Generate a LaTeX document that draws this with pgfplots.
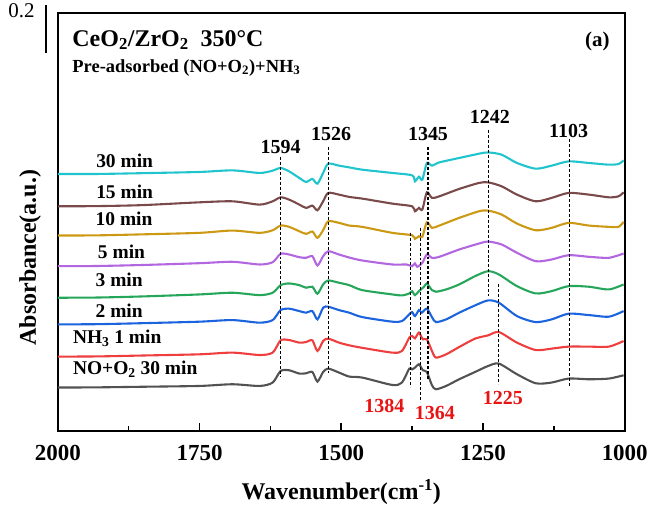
\documentclass[border=0pt]{standalone}
\usepackage{fontspec}
\setmainfont{Liberation Serif}
\usepackage{pgfplots}
\pgfplotsset{compat=1.18}

\definecolor{cCyan}{RGB}{32,196,204}
\definecolor{cBrown}{RGB}{122,74,74}
\definecolor{cGold}{RGB}{204,153,20}
\definecolor{cPurple}{RGB}{178,102,224}
\definecolor{cGreen}{RGB}{38,166,90}
\definecolor{cBlue}{RGB}{28,100,222}
\definecolor{cRed}{RGB}{238,62,62}
\definecolor{cGray}{RGB}{82,82,82}
\definecolor{lblRed}{RGB}{232,20,20}

\pgfplotsset{
  spec/.style={line width=2.1pt, smooth, tension=0.45, no marks, solid},
  guide/.style={black, line width=1.1pt, sharp plot, no marks, dash pattern=on 3pt off 2pt},
}

\begin{document}
\begin{tikzpicture}
\begin{axis}[
    scale only axis,
    width=568pt, height=419pt,
    xmin=1000, xmax=2000, ymin=0, ymax=419,
    x dir=reverse,
    clip=false,
    line width=2.2pt,
    xtick={1000,1250,...,2000},
    minor x tick num=1,
    xtick pos=bottom,
    tick align=inside,
    major tick length=8pt, minor tick length=5pt,
    major tick style={line width=1.6pt, black},
    minor tick style={line width=1.6pt, black},
    ytick=\empty,
    /pgf/number format/1000 sep={},
    /pgf/number format/assume math mode=true,
    ticklabel style={font=\fontsize{23}{27}\selectfont\bfseries},
    xticklabel style={yshift=-10pt},
    xlabel={Wavenumber(cm\textsuperscript{-1})},
    ylabel={Absorbance(a.u.)},
    label style={font=\fontsize{24}{28}\selectfont\bfseries},
    xlabel style={at={(axis description cs:0.5,0)}, anchor=center, yshift=-61pt},
    ylabel style={at={(axis description cs:-0.049,0.415)}, anchor=center},
  ]

  % NO+O2 30 min
  \addplot[spec, cGray] table {
2000 43.7
1930 43.9
1850 44.5
1750 45.3
1692 47.0
1644 45.3
1621 48.7
1607 60.3
1592 61.0
1574 57.7
1562 58.0
1551 59.3
1542 49.7
1532 59.3
1523 62.7
1504 58.7
1486 54.7
1463 53.7
1410 46.3
1393 48.7
1380 62.7
1375 62.0
1370 63.7
1363 67.0
1356 61.0
1349 59.3
1340 46.0
1333 42.0
1315 45.3
1292 52.0
1264 59.3
1241 65.3
1222 67.7
1190 57.0
1157 48.0
1129 48.7
1099 52.7
1063 52.0
1028 52.7
1002 56.0
  };
  % NH3 1 min
  \addplot[spec, cRed] table {
2000 74.7
1930 74.9
1850 75.8
1750 77.0
1692 78.7
1644 76.3
1621 78.7
1607 91.0
1592 91.3
1574 88.7
1562 89.3
1551 91.0
1542 80.3
1532 90.3
1523 92.7
1504 88.7
1486 86.0
1463 83.5
1410 78.7
1393 80.3
1380 93.7
1375 95.3
1370 93.0
1363 98.7
1356 92.0
1349 92.0
1340 80.3
1333 73.7
1315 77.0
1292 84.3
1264 92.7
1241 96.0
1222 99.3
1190 88.7
1157 81.3
1129 82.7
1099 84.7
1063 84.7
1028 84.7
1002 90.3
  };
  % 2 min
  \addplot[spec, cBlue] table {
2000 107.0
1930 107.2
1850 108.2
1750 109.7
1692 111.3
1644 108.7
1621 111.3
1607 121.3
1592 122.7
1574 120.3
1562 118.7
1551 120.3
1542 112.0
1532 123.7
1523 124.7
1504 121.3
1486 118.7
1463 114.3
1410 109.7
1393 110.3
1380 117.0
1375 119.3
1370 115.3
1363 121.3
1358 118.7
1349 122.7
1340 114.3
1333 109.3
1315 112.0
1292 118.7
1264 126.0
1241 131.0
1222 128.7
1190 115.3
1157 109.3
1129 112.0
1099 117.7
1063 116.3
1028 114.7
1002 120.3
  };
  % 3 min
  \addplot[spec, cGreen] table {
2000 133.7
1930 133.9
1850 135.0
1750 137.0
1692 138.7
1644 136.3
1621 138.7
1607 146.3
1592 148.0
1574 146.3
1562 143.7
1551 144.7
1542 137.7
1532 147.0
1523 151.0
1504 148.7
1486 146.3
1463 141.3
1410 137.0
1393 136.0
1380 138.0
1375 140.3
1370 136.3
1363 140.3
1354 144.7
1349 148.0
1340 141.3
1333 139.7
1315 142.0
1292 147.0
1264 155.3
1241 160.3
1222 157.0
1190 145.3
1157 138.0
1129 140.3
1099 145.3
1063 144.7
1028 142.0
1002 147.0
  };
  % 5 min
  \addplot[spec, cPurple] table {
2000 165.3
1930 165.5
1850 166.5
1750 168.3
1692 169.7
1644 167.0
1621 169.3
1607 177.7
1592 177.0
1574 174.3
1562 173.7
1551 175.3
1542 166.0
1532 175.3
1523 180.3
1504 177.0
1486 174.0
1463 171.0
1410 167.0
1385 167.0
1375 165.3
1370 168.0
1366 164.7
1357 168.7
1349 177.0
1340 173.7
1327 174.7
1292 182.0
1257 188.0
1241 190.0
1217 187.0
1190 178.7
1157 170.3
1129 172.0
1099 176.3
1063 174.7
1028 173.7
1002 178.0
  };
  % 10 min
  \addplot[spec, cGold] table {
2000 196.0
1930 196.2
1850 197.2
1750 198.7
1692 201.0
1644 198.7
1621 201.3
1607 206.0
1592 204.7
1574 200.3
1562 197.7
1551 200.0
1542 193.7
1532 201.3
1523 210.3
1504 208.7
1486 206.0
1463 204.7
1410 198.7
1375 196.3
1370 192.7
1363 195.3
1357 194.7
1349 209.3
1340 203.7
1327 206.0
1292 213.7
1257 220.3
1241 221.0
1217 217.0
1190 208.0
1157 201.3
1129 203.7
1099 208.7
1063 206.0
1028 204.7
1011 204.7
1002 209.7
  };
  % 15 min
  \addplot[spec, cBrown] table {
2000 225.3
1930 225.5
1850 226.5
1750 229.3
1692 230.3
1644 227.0
1621 230.3
1607 234.3
1592 232.0
1574 227.0
1562 223.7
1551 226.0
1542 221.3
1532 230.3
1523 238.7
1504 237.0
1486 234.7
1463 233.0
1410 228.0
1375 225.3
1370 220.3
1363 223.7
1357 222.0
1349 239.3
1340 233.7
1327 235.3
1292 242.7
1257 248.7
1241 249.3
1217 245.3
1190 237.0
1157 230.3
1129 233.7
1099 238.7
1063 237.0
1028 234.3
1011 235.3
1002 239.3
  };
  % 30 min
  \addplot[spec, cCyan] table {
2000 257.7
1930 257.7
1850 258.5
1750 259.7
1692 261.3
1644 258.7
1621 261.0
1607 263.7
1592 260.3
1574 253.7
1562 249.7
1551 252.7
1542 248.0
1532 258.7
1523 268.0
1504 266.0
1486 264.3
1463 262.0
1410 258.7
1375 256.3
1370 250.3
1363 255.0
1357 252.0
1349 268.7
1340 266.0
1327 269.3
1292 273.7
1257 278.0
1241 279.3
1217 277.0
1190 268.7
1157 263.0
1129 266.0
1099 270.3
1063 268.7
1028 267.0
1011 267.7
1002 271.3
  };

  % dashed guide lines
  \addplot[guide] coordinates {(1607,275) (1607,54)};
  \addplot[guide] coordinates {(1523,285) (1523,58)};
  \addplot[guide] coordinates {(1347,285) (1347,52)};
  \addplot[guide] coordinates {(1241,302) (1241,135)};
  \addplot[guide] coordinates {(1097,293) (1097,44)};
  \addplot[guide] coordinates {(1378,199) (1378,44)};
  \addplot[guide] coordinates {(1361,204) (1361,29)};
  \addplot[guide] coordinates {(1222,147) (1222,47)};

  % scale bar
  \addplot[black, solid, no marks, line width=1.3pt] coordinates {(2021,427) (2021,379)};
  \node[anchor=east, font=\fontsize{21}{24}\selectfont] at (axis cs:2033,421) {0.2};

  % titles
  \node[anchor=west, font=\fontsize{24}{28}\selectfont\bfseries] at (axis cs:1982,392)
    {CeO\textsubscript{2}/ZrO\textsubscript{2}\ \ 350°C};
  \node[anchor=west, font=\fontsize{18.5}{22}\selectfont\bfseries] at (axis cs:1982,364)
    {Pre-adsorbed (NO+O\textsubscript{2})+NH\textsubscript{3}};
  \node[anchor=east, font=\fontsize{21}{24}\selectfont\bfseries] at (axis cs:1019,390) {(a)};

  % curve labels
  \begin{scope}[every node/.style={anchor=west, font=\fontsize{19.5}{23}\selectfont\bfseries}]
    \node at (axis cs:1940,271) {30 min};
    \node at (axis cs:1940,240) {15 min};
    \node at (axis cs:1941,213) {10 min};
    \node at (axis cs:1937,180) {5 min};
    \node at (axis cs:1941,152) {3 min};
    \node at (axis cs:1941,121) {2 min};
    \node at (axis cs:1981,93) {NH\textsubscript{3} 1 min};
    \node at (axis cs:1981,62) {NO+O\textsubscript{2} 30 min};
  \end{scope}

  % peak labels
  \begin{scope}[every node/.style={font=\fontsize{20}{23}\selectfont\bfseries}]
    \node at (axis cs:1607,285) {1594};
    \node at (axis cs:1518,298) {1526};
    \node at (axis cs:1347,298) {1345};
    \node at (axis cs:1238,315) {1242};
    \node at (axis cs:1099,301) {1103};
    \node[text=lblRed] at (axis cs:1424,25) {1384};
    \node[text=lblRed] at (axis cs:1335,18) {1364};
    \node[text=lblRed] at (axis cs:1215,33) {1225};
  \end{scope}

  % page extent
  \coordinate (pageSW) at (axis cs:2102,-73);
  \coordinate (pageNE) at (axis cs:956,432);
\end{axis}
\path (pageSW) rectangle (pageNE);
\end{tikzpicture}
\end{document}
